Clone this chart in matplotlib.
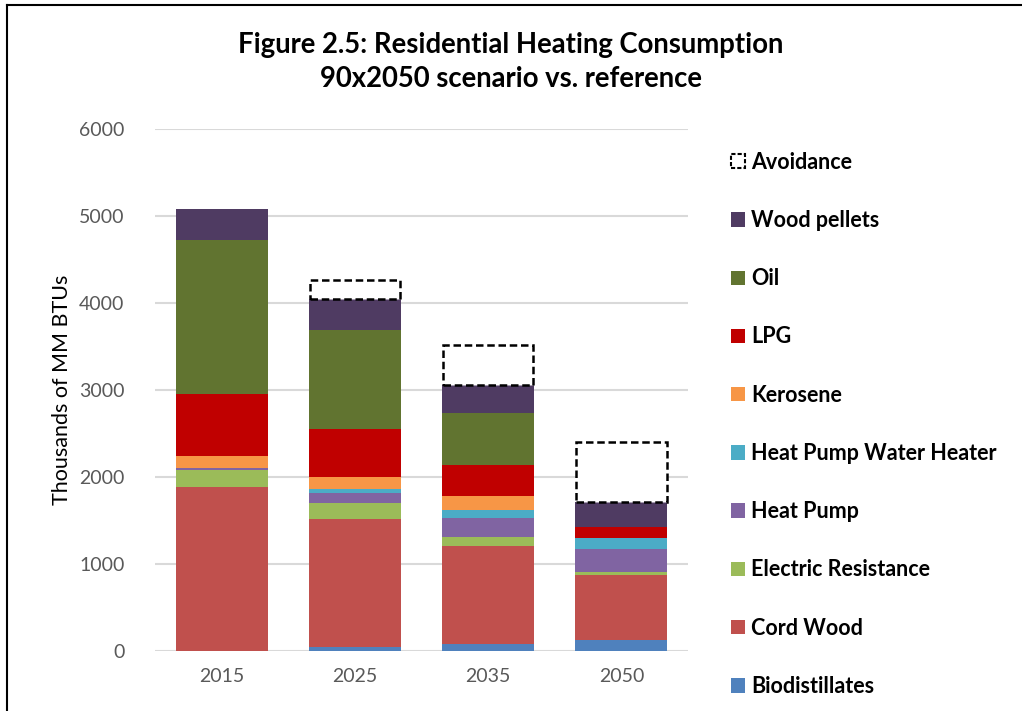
import matplotlib.pyplot as plt
from matplotlib.patches import Patch
from matplotlib.lines import Line2D

plt.rcParams['font.family'] = ['Lato', 'DejaVu Sans']

years = ['2015', '2025', '2035', '2050']

# thousands of MM BTUs, stacked bottom -> top
biodistillates = [0, 46, 85, 123]
cord_wood = [1885, 1471, 1122, 747]
electric_res = [192, 188, 103, 35]
heat_pump = [31, 108, 219, 272]
hp_water_heater = [0, 46, 92, 126]
kerosene = [130, 141, 165, 0]
lpg = [720, 552, 352, 122]
oil = [1763, 1142, 602, 0]
wood_pellets = [364, 349, 322, 292]
avoidance = [0, 218, 460, 685]

series = [
    ('Biodistillates', biodistillates, '#4F81BD'),
    ('Cord Wood', cord_wood, '#C0504D'),
    ('Electric Resistance', electric_res, '#9BBB59'),
    ('Heat Pump', heat_pump, '#8064A2'),
    ('Heat Pump Water Heater', hp_water_heater, '#4BACC6'),
    ('Kerosene', kerosene, '#F79646'),
    ('LPG', lpg, '#C00000'),
    ('Oil', oil, '#617430'),
    ('Wood pellets', wood_pellets, '#4F3B62'),
]

fig = plt.figure(figsize=(10.22, 7.11), dpi=100)
ax = fig.add_axes([155 / 1022, 60 / 711, 533 / 1022, 522 / 711])

x = range(len(years))
width = 0.69
bottom = [0] * len(years)
handles = []
for name, vals, color in series:
    ax.bar(x, vals, width, bottom=bottom, color=color, linewidth=0, zorder=3)
    bottom = [b + v for b, v in zip(bottom, vals)]
    handles.append(Patch(facecolor=color, label=name))

# avoidance boxes (dashed outline)
for i, v in enumerate(avoidance):
    if v > 0:
        ax.bar(i, v, width * 0.985, bottom=bottom[i], facecolor='white', edgecolor='black',
               linestyle=(0, (3, 1.5)), linewidth=1.8, zorder=3)
handles.append(Patch(facecolor='white', edgecolor='black', linestyle=(0, (2, 1)),
                     linewidth=1.5, label='Avoidance'))

ax.set_xlim(-0.5, 3.5)
ax.set_ylim(0, 6000)
ax.set_yticks(range(0, 6001, 1000))
ax.set_xticks(list(x))
ax.set_xticklabels(years)
ax.tick_params(length=0, labelsize=14, labelcolor='#595959')
ax.tick_params(axis='y', pad=22)
ax.tick_params(axis='x', pad=12)
ax.grid(axis='y', color='#D9D9D9', linewidth=1.5, zorder=0)
for s in ax.spines.values():
    s.set_visible(False)
ax.set_ylabel('Thousands of MM BTUs', fontsize=15.5, color='#000000', labelpad=5)

fig.text(0.5, 0.937, 'Figure 2.5: Residential Heating Consumption', ha='center', va='center',
         fontsize=19.8, fontweight='bold')
fig.text(0.5, 0.889, '90x2050 scenario vs. reference', ha='center', va='center',
         fontsize=19.8, fontweight='bold')

leg = fig.legend(handles=handles[::-1], loc='upper left', bbox_to_anchor=(720 / 1022, 1 - 141 / 711),
                 frameon=False, fontsize=15.5, handlelength=0.65, handleheight=0.65,
                 handletextpad=0.3, labelspacing=1.73, borderpad=0)
for t in leg.get_texts():
    t.set_fontweight('bold')

# frame lines around the chart area
fig.add_artist(Line2D([6.5 / 1022, 6.5 / 1022], [0, 1 - 4.5 / 711], color='black', linewidth=1.5))
fig.add_artist(Line2D([6.5 / 1022, 1], [1 - 4.5 / 711, 1 - 4.5 / 711], color='black', linewidth=1.5))

fig.savefig('out.png', dpi=100)
